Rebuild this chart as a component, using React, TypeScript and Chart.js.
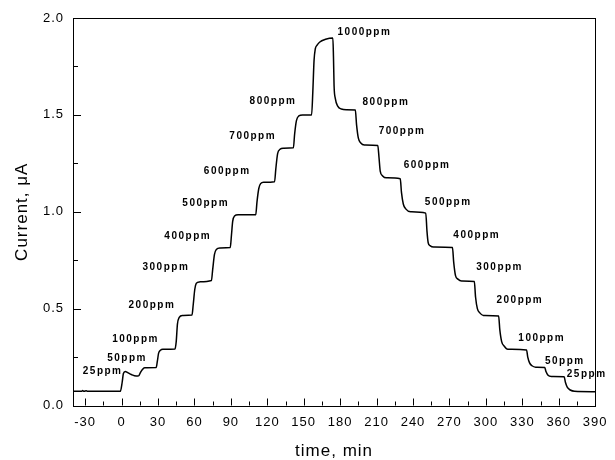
import React, { useEffect, useRef } from "react";
import { Chart, registerables } from "chart.js";

Chart.register(...registerables);

// time (min)
const timeData: number[] = [
  -40, -33, -32, -31, -29, -28, -26, -1, 0.5, 1.5, 3, 5, 8, 12, 14, 15.5, 17, 19, 28.5, 29.5, 30.5, 32, 34,
  44, 45, 46, 47.5, 50, 58, 59, 60.3, 61.5, 64, 74, 75, 76.5, 78, 81, 89.5, 90.5, 91.5, 93, 96,
  110.5, 111.5, 113, 114.5, 117, 126, 127, 128.5, 130.5, 133, 141.5, 142.5, 144, 146, 149,
  156.5, 157.5, 158.5, 159.5, 161, 163, 168, 174, 174.5, 175, 176, 178, 181, 185,
  192.5, 193.5, 195, 197, 200, 211, 212, 213, 215, 218, 229.5, 230.5, 232, 234, 238,
  250.5, 251.5, 252.5, 254, 257, 272.5, 273.5, 275, 277, 280, 290.5, 291.5, 293, 295, 298,
  310.5, 311.5, 313, 315, 318, 333.5, 334.5, 336, 338, 341, 348.5, 349.5, 351, 354,
  364.5, 365.5, 367, 369.5, 373, 390,
];
// current (µA)
const currentData: number[] = [
  0.073, 0.073, 0.077, 0.073, 0.076, 0.073, 0.073, 0.073, 0.12, 0.165, 0.176, 0.17, 0.16, 0.152, 0.153, 0.17, 0.185, 0.195, 0.196, 0.23, 0.27, 0.285, 0.29,
  0.292, 0.33, 0.42, 0.455, 0.465, 0.467, 0.52, 0.6, 0.63, 0.638, 0.645, 0.7, 0.78, 0.805, 0.813, 0.815, 0.88, 0.95, 0.978, 0.984,
  0.985, 1.05, 1.12, 1.145, 1.152, 1.155, 1.22, 1.3, 1.322, 1.328, 1.33, 1.4, 1.47, 1.495, 1.5,
  1.5, 1.62, 1.78, 1.84, 1.86, 1.875, 1.89, 1.897, 1.8, 1.65, 1.585, 1.545, 1.53, 1.527,
  1.525, 1.45, 1.38, 1.355, 1.345, 1.342, 1.28, 1.21, 1.185, 1.175, 1.17, 1.1, 1.04, 1.015, 1.0,
  0.993, 0.9, 0.84, 0.825, 0.818, 0.815, 0.74, 0.67, 0.652, 0.643, 0.64, 0.56, 0.5, 0.478, 0.465,
  0.462, 0.39, 0.33, 0.307, 0.29, 0.287, 0.25, 0.22, 0.205, 0.198, 0.196, 0.175, 0.158, 0.15,
  0.148, 0.12, 0.095, 0.08, 0.073, 0.071,
];

// concentration annotations (text, time, current)
const labelTexts: string[] = [
  "25ppm", "50ppm", "100ppm", "200ppm", "300ppm", "400ppm", "500ppm", "600ppm", "700ppm", "800ppm",
  "1000ppm",
  "800ppm", "700ppm", "600ppm", "500ppm", "400ppm", "300ppm", "200ppm", "100ppm", "50ppm", "25ppm",
];
const labelTimes: number[] = [
  -15.6, 4.5, 11.5, 25, 36.5, 54.5, 69.3, 87, 108, 124.7,
  200,
  217.7, 231, 251.6, 269, 292.5, 311.3, 328, 346, 365, 383,
];
const labelCurrents: number[] = [
  0.178, 0.245, 0.342, 0.519, 0.715, 0.872, 1.046, 1.211, 1.392, 1.569,
  1.924,
  1.564, 1.413, 1.242, 1.051, 0.881, 0.715, 0.545, 0.349, 0.23, 0.161,
];

const xMajorTicks: number[] = [-30, 0, 30, 60, 90, 120, 150, 180, 210, 240, 270, 300, 330, 360, 390];
const xMinorTicks: number[] = [-15, 15, 45, 75, 105, 135, 165, 195, 225, 255, 285, 315, 345, 375];
const yMajorTicks: number[] = [0, 0.5, 1.0, 1.5, 2.0];
const yMinorTicks: number[] = [0.25, 0.75, 1.25, 1.75];

const FONT = "'Liberation Sans', Arial, sans-serif";

const decorPlugin = {
  id: "decor",
  beforeDraw(chart: any) {
    (chart.ctx as any).letterSpacing = "1px";
  },
  afterDraw(chart: any) {
    const ctx = chart.ctx as CanvasRenderingContext2D;
    const xs = chart.scales.x;
    const ys = chart.scales.y;
    const area = chart.chartArea;
    ctx.save();
    ctx.strokeStyle = "#000";
    ctx.lineWidth = 1;
    ctx.beginPath();
    const tickX = (vals: number[], len: number) => {
      vals.forEach((v) => {
        const px = Math.round(xs.getPixelForValue(v)) + 0.5;
        ctx.moveTo(px, area.bottom);
        ctx.lineTo(px, area.bottom - len);
      });
    };
    const tickY = (vals: number[], len: number) => {
      vals.forEach((v) => {
        const py = Math.round(ys.getPixelForValue(v)) + 0.5;
        ctx.moveTo(area.left, py);
        ctx.lineTo(area.left + len, py);
      });
    };
    tickX(xMajorTicks, 7);
    tickX(xMinorTicks, 4);
    tickY(yMajorTicks, 8);
    tickY(yMinorTicks, 5);
    ctx.stroke();
    // frame
    ctx.strokeRect(Math.round(area.left) + 0.5, Math.round(area.top) + 0.5, Math.round(area.right - area.left), Math.round(area.bottom - area.top));

    (ctx as any).letterSpacing = "1.5px";
    ctx.font = `bold 10px ${FONT}`;
    ctx.fillStyle = "#000";
    ctx.textAlign = "center";
    ctx.textBaseline = "middle";
    labelTexts.forEach((t, i) => {
      ctx.fillText(t, xs.getPixelForValue(labelTimes[i]), ys.getPixelForValue(labelCurrents[i]));
    });
    ctx.restore();
  },
};

export default function App() {
  const ref = useRef<HTMLCanvasElement | null>(null);
  useEffect(() => {
    if (!ref.current) return;
    const points = timeData.map((t, i) => ({ x: t, y: currentData[i] }));
    const chart = new Chart(ref.current, {
      type: "line",
      data: {
        datasets: [
          {
            data: points,
            borderColor: "#000",
            borderWidth: 1.5,
            pointRadius: 0,
            cubicInterpolationMode: "monotone",
            fill: false,
          },
        ],
      },
      options: {
        animation: false,
        responsive: false,
        events: [],
        layout: { padding: { top: 18, right: 18, left: 0, bottom: 0 } },
        plugins: { legend: { display: false }, tooltip: { enabled: false } },
        scales: {
          x: {
            type: "linear",
            min: -40,
            max: 390,
            grid: { display: false, drawTicks: false },
            border: { display: false },
            afterBuildTicks: (axis: any) => {
              axis.ticks = xMajorTicks.map((v) => ({ value: v }));
            },
            afterFit: (axis: any) => {
              axis.height = 54.5;
            },
            ticks: {
              autoSkip: false,
              maxRotation: 0,
              padding: 9,
              color: "#000",
              font: { family: FONT, size: 13 },
              callback: (v: any) => String(v),
            },
            title: {
              display: true,
              text: "time, min",
              color: "#000",
              font: { family: FONT, size: 17, lineHeight: 1 },
              padding: { top: 0, bottom: 0 },
            },
          },
          y: {
            type: "linear",
            min: 0,
            max: 2,
            grid: { display: false, drawTicks: false },
            border: { display: false },
            afterBuildTicks: (axis: any) => {
              axis.ticks = yMajorTicks.map((v) => ({ value: v }));
            },
            afterFit: (axis: any) => {
              axis.width = 73;
            },
            ticks: {
              padding: 9,
              color: "#000",
              font: { family: FONT, size: 13 },
              callback: (v: any) => Number(v).toFixed(1),
            },
            title: {
              display: true,
              text: "Current, μA",
              color: "#000",
              font: { family: FONT, size: 17, lineHeight: 1 },
              padding: { top: 14, bottom: 0 },
            },
          },
        },
      },
      plugins: [decorPlugin],
    });
    return () => chart.destroy();
  }, []);
  return (
    <div style={{ position: "absolute", left: 0, top: 0, width: 615, height: 460, background: "#fff" }}>
      <canvas ref={ref} width={615} height={460} style={{ display: "block" }} />
    </div>
  );
}
